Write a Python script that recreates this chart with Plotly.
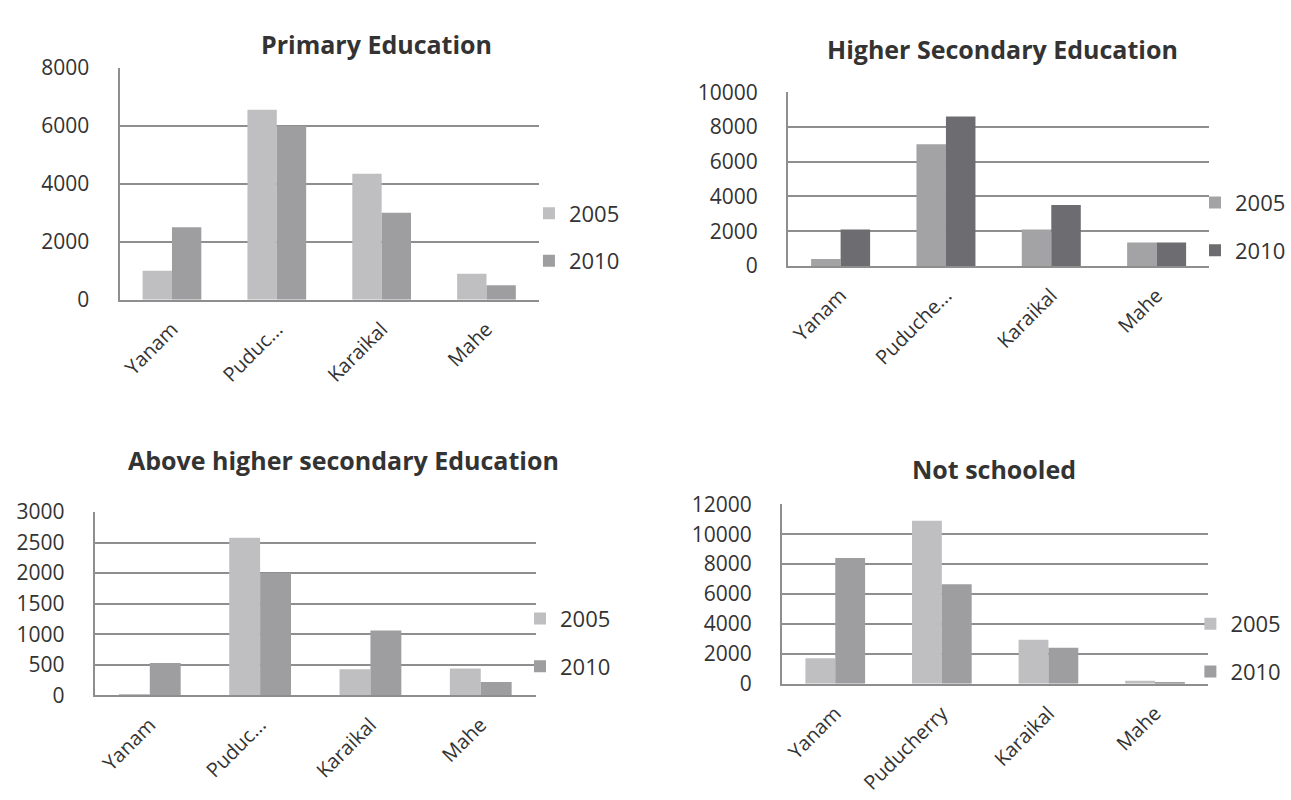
import plotly.graph_objects as go

# ---------------- data ----------------
categories = ["Yanam", "Puducherry", "Karaikal", "Mahe"]

primary_labels = ["Yanam", "Puduc...", "Karaikal", "Mahe"]
primary_2005 = [1000, 6560, 4350, 900]
primary_2010 = [2500, 6000, 3000, 500]

higher_labels = ["Yanam", "Puduche...", "Karaikal", "Mahe"]
higher_2005 = [400, 7000, 2100, 1350]
higher_2010 = [2100, 8600, 3500, 1350]

above_labels = ["Yanam", "Puduc...", "Karaikal", "Mahe"]
above_2005 = [20, 2580, 425, 440]
above_2010 = [530, 2000, 1060, 220]

notsch_labels = ["Yanam", "Puducherry", "Karaikal", "Mahe"]
notsch_2005 = [1700, 10900, 2950, 200]
notsch_2010 = [8400, 6650, 2400, 120]

titles = ["Primary Education", "Higher Secondary Education",
          "Above higher secondary Education", "Not schooled"]
years = ["2005", "2010"]

# ---------------- layout helpers ----------------
W, H = 1291, 800
FONT = "Open Sans"
TXT = "#333333"
GRID = "#8e8e8e"


def xd(l, r):
    return [l / W, r / W]


def yd(top, bottom):
    return [1 - bottom / H, 1 - top / H]


panels = [
    dict(labels=primary_labels, v05=primary_2005, v10=primary_2010,
         c05="#bfbfc1", c10="#9e9ea1", xdom=xd(119, 540), ydom=yd(55, 295),
         yrange=[0, 8000], dtick=2000, title_xy=(377, 30),
         leg_sq=546, leg_mid=(207 + 254) / 2),
    dict(labels=higher_labels, v05=higher_2005, v10=higher_2010,
         c05="#a3a3a5", c10="#6d6d71", xdom=xd(790, 1213), ydom=yd(80, 260),
         yrange=[0, 10000], dtick=2000, title_xy=(1005, 35),
         leg_sq=1215, leg_mid=(196 + 243) / 2),
    dict(labels=above_labels, v05=above_2005, v10=above_2010,
         c05="#bfbfc1", c10="#9e9ea1", xdom=xd(94, 537), ydom=yd(515, 705),
         yrange=[0, 3000], dtick=500, title_xy=(344, 461),
         leg_sq=537, leg_mid=(627 + 674) / 2),
    dict(labels=notsch_labels, v05=notsch_2005, v10=notsch_2010,
         c05="#bfbfc1", c10="#9e9ea1", xdom=xd(784, 1212), ydom=yd(507, 693),
         yrange=[0, 12000], dtick=2000, title_xy=(997, 470),
         leg_sq=1210, leg_mid=(632 + 680) / 2),
]

fig = go.Figure()
layout = dict(
    width=W, height=H,
    margin=dict(l=0, r=0, t=0, b=0),
    paper_bgcolor="white", plot_bgcolor="white",
    bargap=0.44, bargroupgap=0,
    barmode="group",
    font=dict(family=FONT, color=TXT),
    annotations=[],
)

for i, p in enumerate(panels):
    n = "" if i == 0 else str(i + 1)
    leg = "legend" + n
    for yr, vals, col in [(years[0], p["v05"], p["c05"]), (years[1], p["v10"], p["c10"])]:
        fig.add_trace(go.Bar(
            x=categories, y=vals, name=yr,
            marker=dict(color=col, line=dict(width=0)),
            xaxis="x" + n, yaxis="y" + n,
            legend=leg, legendgroup=f"{leg}_{yr}",
            showlegend=True,
        ))
    layout["xaxis" + n] = dict(
        domain=p["xdom"], anchor="y" + n,
        tickmode="array", tickvals=categories, ticktext=p["labels"],
        tickangle=-45, tickfont=dict(size=20, color=TXT, family=FONT),
        showline=True, linecolor=GRID, linewidth=2,
        showgrid=False, ticks="", ticklabelstandoff=8,
        fixedrange=True,
    )
    layout["yaxis" + n] = dict(
        domain=p["ydom"], anchor="x" + n,
        range=p["yrange"], dtick=p["dtick"], tick0=0, tickformat="d",
        tickfont=dict(size=21, color=TXT, family=FONT),
        showline=True, linecolor=GRID, linewidth=2,
        showgrid=True, gridcolor=GRID, gridwidth=2,
        zeroline=False, ticks="", ticklabelstandoff=24,
        fixedrange=True,
    )
    layout[leg] = dict(
        x=(p["leg_sq"] - 16) / W, xanchor="left",
        y=1 - p["leg_mid"] / H, yanchor="middle",
        font=dict(size=22, color=TXT, family=FONT),
        traceorder="grouped", tracegroupgap=16,
        bgcolor="rgba(0,0,0,0)", borderwidth=0,
        itemclick=False, itemdoubleclick=False,
    )
    tx, ty = p["title_xy"]
    layout["annotations"].append(dict(
        text="<b>" + titles[i] + "</b>",
        x=tx / W, y=1 - ty / H, xref="paper", yref="paper",
        xanchor="center", yanchor="middle", showarrow=False,
        font=dict(size=25, color=TXT, family=FONT),
    ))

fig.update_layout(**layout)
fig.write_html("out.html", post_script="document.body.style.margin='0px';")
